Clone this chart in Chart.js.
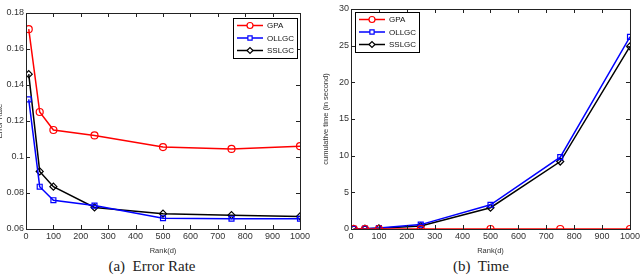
<!DOCTYPE html>
<html>
<head>
<meta charset="utf-8">
<script src="https://cdn.jsdelivr.net/npm/chart.js@4"></script>
<style>
  body { margin: 0; background: #fff; width: 642px; height: 275px; overflow: hidden; position: relative; }
  .box { position: absolute; top: 0; height: 255px; }
  .cap { position: absolute; top: 258px; font-family: "Liberation Serif", "DejaVu Serif", serif; font-size: 15px; color: #222; text-align: center; width: 200px; }
</style>
</head>
<body>
<div class="box" style="left:-5px; width:326px;"><canvas id="err"></canvas></div>
<div class="box" style="left:321px; width:321px;"><canvas id="time"></canvas></div>
<div class="cap" style="left:52px;">(a)&nbsp; Error Rate</div>
<div class="cap" style="left:381px;">(b)&nbsp; Time</div>
<script>
// data
const ranks = [10, 50, 100, 250, 500, 750, 1000];
const seriesNames = ["GPA", "OLLGC", "SSLGC"];
const errGPA   = [0.171, 0.125, 0.115, 0.112, 0.1055, 0.1045, 0.106];
const errOLLGC = [0.132, 0.0835, 0.076, 0.073, 0.066, 0.0657, 0.0657];
const errSSLGC = [0.146, 0.092, 0.0835, 0.072, 0.0685, 0.0677, 0.067];
const timeGPA   = [0.0, 0.0, 0.0, 0.0, 0.0, 0.0, 0.0];
const timeOLLGC = [0.02, 0.05, 0.12, 0.6, 3.3, 9.8, 26.2];
const timeSSLGC = [0.02, 0.04, 0.1, 0.4, 2.9, 9.2, 24.9];

const colors = ["#ff0000", "#0000ff", "#000000"];
const shapes = ["circle", "rect", "rectRot"];
const tickColor = "#333";

function pts(ys) { return ranks.map((x, i) => ({x: x, y: ys[i]})); }

function makeSets(lists) {
  return lists.map((ys, i) => ({
    label: seriesNames[i],
    data: pts(ys),
    borderColor: colors[i],
    backgroundColor: "rgba(0,0,0,0)",
    pointBorderColor: colors[i],
    pointBackgroundColor: "rgba(0,0,0,0)",
    pointStyle: shapes[i],
    pointRadius: 3.5,
    pointBorderWidth: 1.2,
    borderWidth: 1.5,
    showLine: true,
    tension: 0
  }));
}

// matlab-ish frame, inward ticks and boxed legend
const matlabFrame = {
  id: "matlabFrame",
  afterDatasetsDraw(chart, args, opts) {
    const c = chart.ctx, a = chart.chartArea;
    const xs = chart.scales.x, ys = chart.scales.y;
    c.save();
    c.strokeStyle = "#222";
    c.lineWidth = 1;
    c.strokeRect(a.left + 0.5, a.top + 0.5, a.right - a.left, a.bottom - a.top);
    c.beginPath();
    xs.ticks.forEach(t => {
      const p = Math.round(xs.getPixelForValue(t.value)) + 0.5;
      c.moveTo(p, a.bottom); c.lineTo(p, a.bottom - 4);
      c.moveTo(p, a.top); c.lineTo(p, a.top + 4);
    });
    ys.ticks.forEach(t => {
      const p = Math.round(ys.getPixelForValue(t.value)) + 0.5;
      c.moveTo(a.left, p); c.lineTo(a.left + 4, p);
      c.moveTo(a.right, p); c.lineTo(a.right - 4, p);
    });
    c.stroke();

    // legend
    const w = 64, h = 40;
    const lx = opts.side == "right" ? a.right - w - 3 : a.left + 4;
    const ly = a.top + opts.top;
    c.fillStyle = "#fff";
    c.fillRect(lx, ly, w, h);
    c.strokeStyle = "#000";
    c.strokeRect(lx + 0.5, ly + 0.5, w, h);
    c.font = "8px 'Liberation Sans', Arial, sans-serif";
    c.textBaseline = "middle";
    chart.data.datasets.forEach((ds, i) => {
      const yy = ly + 7.5 + i * 12.5;
      c.strokeStyle = ds.borderColor;
      c.lineWidth = 1.5;
      c.beginPath();
      c.moveTo(lx + 4, yy); c.lineTo(lx + 30, yy);
      c.stroke();
      c.lineWidth = 1.2;
      c.fillStyle = "#fff";
      Chart.helpers.drawPoint(c, {pointStyle: ds.pointStyle, radius: 3, borderWidth: 1.2}, lx + 17, yy);
      c.fillStyle = "#111";
      c.fillText(ds.label, lx + 34, yy + 0.5);
    });
    c.restore();
  }
};

function axisCfg(min, max, step, title, fixedSize, isY) {
  return {
    type: "linear",
    min: min, max: max,
    ticks: {
      stepSize: step, color: tickColor, padding: 2,
      font: {size: 9, family: "'Liberation Sans', Arial, sans-serif"},
      maxRotation: 0, autoSkip: false,
      callback: v => String(Math.round(v * 1000) / 1000)
    },
    grid: {display: false, drawTicks: false},
    border: {display: false},
    title: {
      display: true, text: title, color: tickColor, padding: isY ? {top: 0, bottom: 1} : {top: 1, bottom: 0},
      font: {size: 7.5, family: "'Liberation Sans', Arial, sans-serif"}
    },
    afterFit(s) { if (isY) s.width = fixedSize; else s.height = fixedSize; }
  };
}

function build(id, sets, yMin, yMax, yStep, yTitle, yWidth, pad, legend) {
  return new Chart(document.getElementById(id), {
    type: "line",
    data: {datasets: sets},
    options: {
      responsive: true,
      maintainAspectRatio: false,
      animation: false,
      layout: {padding: pad},
      plugins: {
        legend: {display: false},
        tooltip: {enabled: false},
        matlabFrame: legend
      },
      scales: {
        x: axisCfg(0, 1000, 100, "Rank(d)", 26, false),
        y: axisCfg(yMin, yMax, yStep, yTitle, yWidth, true)
      }
    },
    plugins: [matlabFrame]
  });
}

build("err", makeSets([errGPA, errOLLGC, errSSLGC]), 0.06, 0.18, 0.02, "Error Rate", 31,
  {left: 0, right: 21, top: 13, bottom: 0}, {side: "right", top: 5});
build("time", makeSets([timeGPA, timeOLLGC, timeSSLGC]), 0, 30, 5, "cumulative time (in second)", 30,
  {left: 0, right: 11, top: 9, bottom: 0}, {side: "left", top: 3});
</script>
</body>
</html>
